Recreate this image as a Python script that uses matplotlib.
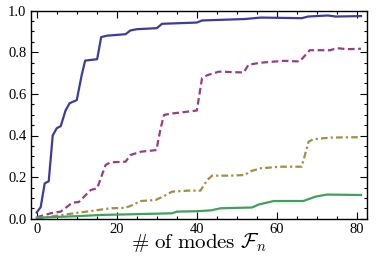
import matplotlib
matplotlib.use("Agg")
import matplotlib.pyplot as plt
from matplotlib.ticker import MultipleLocator

plt.rcParams['mathtext.fontset'] = 'cm'
plt.rcParams['font.family'] = ['Liberation Serif', 'DejaVu Serif']

blue_x = [0, 1, 2, 3, 4, 5, 6, 7.2, 8.2, 10, 11.2, 12.1, 15.1, 16.1, 17.6, 22.2, 23.4, 25, 30, 31.3, 40, 41.3, 52, 56, 66.2, 67.8, 72.7, 74.7, 81]
blue_y = [0.03, 0.056, 0.17, 0.18, 0.40, 0.435, 0.445, 0.52, 0.555, 0.57, 0.687, 0.76, 0.767, 0.873, 0.88, 0.887, 0.905, 0.911, 0.916, 0.937, 0.943, 0.953, 0.96, 0.967, 0.964, 0.972, 0.977, 0.972, 0.974]

purple_x = [0, 3.5, 6, 8.9, 10.5, 13.5, 15.1, 17.2, 18.4, 22.2, 23.4, 26, 29.9, 30.9, 31.8, 33.5, 40, 41.3, 42.6, 45.5, 51.7, 52.9, 55.9, 61.7, 65.7, 68.2, 73.3, 75, 77.5, 81]
purple_y = [0.007, 0.026, 0.034, 0.077, 0.08, 0.138, 0.146, 0.258, 0.271, 0.274, 0.306, 0.322, 0.33, 0.43, 0.499, 0.505, 0.52, 0.676, 0.69, 0.707, 0.703, 0.74, 0.75, 0.759, 0.756, 0.81, 0.81, 0.82, 0.815, 0.817]

olive_x = [0, 3.5, 9.3, 14.3, 18.4, 22, 23.4, 26, 29.7, 31.8, 33.8, 37.8, 40.9, 42.6, 43.8, 48.3, 52, 53.4, 55.9, 60.8, 66.2, 67.9, 69.1, 73.3, 81]
olive_y = [0.0, 0.01, 0.026, 0.039, 0.05, 0.052, 0.061, 0.085, 0.09, 0.109, 0.13, 0.135, 0.135, 0.186, 0.207, 0.207, 0.21, 0.228, 0.242, 0.25, 0.25, 0.37, 0.382, 0.39, 0.392]

green_x = [0, 10, 16, 23, 33.8, 35, 40, 43.5, 45.9, 53.8, 55.4, 59.2, 66.6, 69.6, 72.5, 81]
green_y = [0.005, 0.012, 0.018, 0.021, 0.026, 0.034, 0.036, 0.04, 0.05, 0.054, 0.068, 0.085, 0.085, 0.106, 0.116, 0.114]

x_ticks = [0, 20, 40, 60, 80]
y_ticks = [0.0, 0.2, 0.4, 0.6, 0.8, 1.0]
y_tick_labels = ["0.0", "0.2", "0.4", "0.6", "0.8", "1.0"]

fig = plt.figure(figsize=(3.76, 2.60), dpi=100)
ax = fig.add_axes([30.7/376, 1 - 218.7/260, (367 - 30.7)/376, (218.7 - 10.7)/260])

ax.plot(blue_x, blue_y, color='#3c3ca0', lw=1.6, solid_joinstyle='round')
ax.plot(purple_x, purple_y, color='#9b3c80', lw=1.6, dashes=(3.0, 1.6))
ax.plot(olive_x, olive_y, color='#a09040', lw=1.6, dashes=(3.0, 1.4, 1.0, 1.4))
ax.plot(green_x, green_y, color='#40a060', lw=1.6)

ax.set_xlim(-1.5, 82.5)
ax.set_ylim(0, 1)
ax.set_xticks(x_ticks)
ax.set_yticks(y_ticks)
ax.set_yticklabels(y_tick_labels)
ax.xaxis.set_minor_locator(MultipleLocator(5))
ax.yaxis.set_minor_locator(MultipleLocator(0.05))
ax.tick_params(which='both', direction='in', top=True, right=True, labelsize=10.5, pad=3, width=0.8)
ax.tick_params(which='major', length=5)
ax.tick_params(which='minor', length=2.5)
for s in ax.spines.values():
    s.set_linewidth(1.0)

fig.text(199/376, 1 - 248/260, r"$\#\ \mathrm{of\ modes}\ \mathcal{F}_n$", ha='center', va='baseline', fontsize=15)

fig.savefig("out.png", dpi=100)
